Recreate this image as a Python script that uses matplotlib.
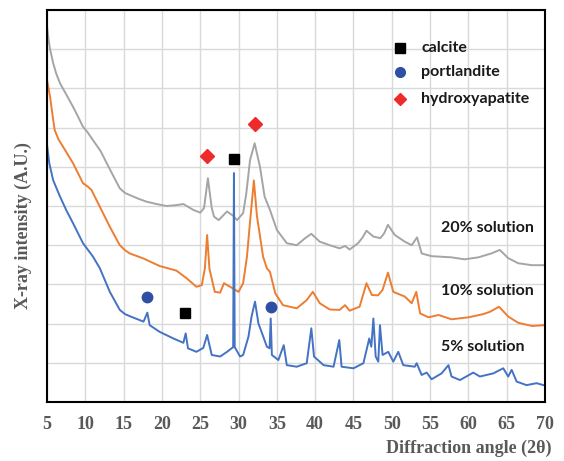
import matplotlib
matplotlib.use("Agg")
import matplotlib.pyplot as plt

# XRD patterns (intensity in grid units 0-10)
gray_x = [5.0, 5.2, 5.4, 5.8, 6.2, 6.7, 7.5, 8.4, 9.0, 9.7,
          10.3, 11.0, 12.0, 12.8, 13.7, 14.5, 15.2, 15.8, 17.0, 18.0,
          19.3, 20.6, 21.8, 22.8, 24.1, 25.0, 25.5, 26.0, 26.5, 26.8,
          27.4, 28.5, 29.3, 29.8, 30.6, 31.0, 31.5, 32.1, 32.8, 33.4,
          34.1, 35.0, 36.3, 37.6, 38.7, 39.5, 40.6, 41.9, 43.2, 43.9,
          44.5, 45.6, 46.2, 46.7, 47.6, 48.5, 49.0, 49.5, 50.4, 51.7,
          52.6, 53.3, 53.9, 55.2, 57.8, 59.5, 61.3, 63.0, 64.1, 65.2,
          66.5, 68.3, 70.0]
gray_y = [9.58, 9.25, 9.00, 8.65, 8.38, 8.13, 7.85, 7.53, 7.30, 7.02,
          6.88, 6.68, 6.40, 6.09, 5.75, 5.45, 5.33, 5.28, 5.18, 5.11,
          5.05, 5.00, 5.02, 5.05, 4.90, 4.83, 4.95, 5.71, 4.95, 4.73,
          4.64, 4.86, 4.75, 4.64, 4.82, 5.30, 6.17, 6.60, 6.00, 5.24,
          4.90, 4.39, 4.05, 4.00, 4.18, 4.29, 4.09, 4.00, 3.92, 3.98,
          3.89, 4.05, 4.20, 4.37, 4.22, 4.18, 4.30, 4.52, 4.26, 4.09,
          4.00, 4.20, 3.79, 3.72, 3.69, 3.64, 3.69, 3.79, 3.88, 3.67,
          3.54, 3.49, 3.49]

orange_x = [5.0, 5.2, 5.4, 5.7, 6.0, 6.5, 7.1, 8.4, 9.7, 10.3,
            10.8, 11.9, 13.2, 14.5, 15.2, 15.8, 17.6, 19.7, 21.9, 23.2,
            24.5, 25.2, 25.6, 25.9, 26.2, 26.9, 27.6, 28.1, 28.9, 30.0,
            30.6, 31.1, 31.5, 32.0, 32.4, 33.2, 33.7, 34.1, 34.8, 35.8,
            37.6, 38.9, 39.7, 40.6, 41.9, 43.2, 43.9, 44.5, 45.8, 46.7,
            47.4, 48.2, 48.8, 49.5, 50.2, 51.7, 52.6, 53.2, 53.7, 54.8,
            56.1, 57.8, 60.0, 61.9, 62.8, 64.0, 65.2, 66.5, 68.3, 70.0]
orange_y = [8.21, 8.00, 7.79, 7.35, 6.94, 6.70, 6.51, 6.09, 5.58, 5.50,
            5.41, 4.98, 4.47, 4.00, 3.87, 3.79, 3.66, 3.47, 3.35, 3.16,
            2.94, 2.98, 3.40, 4.26, 3.40, 2.81, 2.79, 3.03, 2.94, 2.81,
            3.03, 3.71, 4.60, 5.65, 4.75, 3.71, 3.41, 3.32, 2.77, 2.47,
            2.39, 2.60, 2.81, 2.52, 2.36, 2.35, 2.47, 2.33, 2.43, 3.03,
            2.73, 2.72, 2.86, 3.30, 2.81, 2.69, 2.52, 2.81, 2.26, 2.16,
            2.22, 2.11, 2.16, 2.24, 2.30, 2.43, 2.18, 2.02, 1.94, 1.96]

blue_x = [5.0, 5.3, 5.8, 6.7, 7.5, 8.4, 9.7, 11.0, 11.9, 13.2,
          14.5, 15.2, 15.8, 17.6, 18.1, 18.4, 19.7, 21.5, 22.8, 23.1,
          23.4, 24.5, 25.4, 25.9, 26.5, 27.6, 28.5, 29.3, 29.4, 29.5,
          30.2, 30.6, 31.3, 31.7, 32.15, 32.6, 33.0, 33.7, 34.05, 34.2,
          34.35, 35.2, 35.9, 36.3, 37.6, 38.9, 39.5, 39.85, 41.1, 42.4,
          43.15, 43.45, 45.0, 46.3, 47.06, 47.33, 47.6, 47.9, 48.24, 48.46,
          48.8, 49.54, 50.2, 50.85, 51.5, 53.0, 53.25, 53.9, 54.56, 55.2,
          56.5, 57.4, 57.8, 58.9, 60.64, 61.5, 63.25, 64.55, 65.2, 65.65,
          66.3, 67.6, 68.9, 69.8, 70.0]
blue_y = [6.56, 6.09, 5.66, 5.24, 4.90, 4.56, 4.05, 3.71, 3.41, 2.81,
          2.35, 2.24, 2.19, 2.05, 2.28, 1.96, 1.79, 1.62, 1.51, 1.75,
          1.37, 1.28, 1.38, 1.71, 1.20, 1.16, 1.28, 1.40, 5.84, 1.40,
          1.16, 1.20, 1.67, 2.18, 2.56, 2.00, 1.79, 1.41, 1.37, 2.13,
          1.20, 1.07, 1.45, 0.94, 0.90, 0.99, 1.88, 1.16, 0.94, 0.90,
          1.58, 0.90, 0.86, 0.99, 1.62, 1.41, 2.13, 1.16, 1.03, 1.96,
          1.20, 1.28, 1.03, 1.28, 0.94, 0.90, 0.99, 0.69, 0.75, 0.58,
          0.73, 0.94, 0.65, 0.56, 0.75, 0.65, 0.73, 0.86, 0.65, 0.82,
          0.52, 0.43, 0.48, 0.43, 0.43]

# phase markers
calcite_x = [23.0, 29.4]
calcite_y = [2.28, 6.20]
portlandite_x = [18.1, 34.2]
portlandite_y = [2.69, 2.42]
hap_x = [25.9, 32.2]
hap_y = [6.28, 7.10]

series_labels = ["20% solution", "10% solution", "5% solution"]
legend_labels = ["calcite", "portlandite", "hydroxyapatite"]
x_ticks = list(range(5, 71, 5))

fig = plt.figure(figsize=(5.64, 4.61), dpi=100)
ax = fig.add_axes([47 / 564, 59 / 461, 498 / 564, 392 / 461])

ax.plot(gray_x, gray_y, color="#A5A5A5", lw=1.4)
ax.plot(orange_x, orange_y, color="#ED7D31", lw=1.4)
ax.plot(blue_x, blue_y, color="#4472C4", lw=1.4)

ax.plot(calcite_x, calcite_y, "s", color="black", ms=7.5, ls="none")
ax.plot(portlandite_x, portlandite_y, "o", color="#2E4FA3", ms=7.5, ls="none")
ax.plot(hap_x, hap_y, "D", color="#EE2B2B", ms=7, ls="none")

ax.set_xlim(5, 70)
ax.set_ylim(0, 10)
ax.set_xticks(x_ticks)
ax.set_yticks(range(0, 11))
ax.set_yticklabels([])
ax.grid(True, color="#d9d9d9", lw=1)
ax.set_axisbelow(True)
ax.tick_params(axis="both", length=0)
ax.tick_params(axis="x", pad=10)
for lab in ax.get_xticklabels():
    lab.set_fontfamily("Liberation Serif")
    lab.set_fontweight("bold")
    lab.set_fontsize(13)
    lab.set_color("#595959")
for sp in ax.spines.values():
    sp.set_color("black")
    sp.set_linewidth(1.5)

# legend drawn by hand, Excel-like
leg_markers = [("s", "black", 6.5), ("o", "#2E4FA3", 7), ("D", "#EE2B2B", 6)]
leg_rows = [0.904, 0.843, 0.772]
for (m, c, s), lab, yy in zip(leg_markers, legend_labels, leg_rows):
    ax.plot([0.709], [yy], m, color=c, ms=s, transform=ax.transAxes, clip_on=False)
    ax.text(0.752, yy, lab, transform=ax.transAxes, va="center", ha="left",
            fontfamily="Lato", fontweight="bold", fontsize=11.5, color="#1a1a1a")

label_rows = [0.443, 0.282, 0.141]
for lab, yy in zip(series_labels, label_rows):
    ax.text(0.792, yy, lab, transform=ax.transAxes, va="center", ha="left",
            fontfamily="Lato", fontweight="bold", fontsize=11.5, color="#1a1a1a")

fig.text(23 / 564, 1 - 226 / 461, "X-ray intensity (A.U.)", rotation=90,
         ha="center", va="center", fontfamily="Liberation Serif",
         fontweight="bold", fontsize=13, color="#595959")
fig.text(552 / 564, 4 / 461, "Diffraction angle (2\u03b8)", ha="right",
         va="bottom", fontfamily="Liberation Serif", fontweight="bold",
         fontsize=13, color="#595959")

fig.savefig("out.png", dpi=100)
